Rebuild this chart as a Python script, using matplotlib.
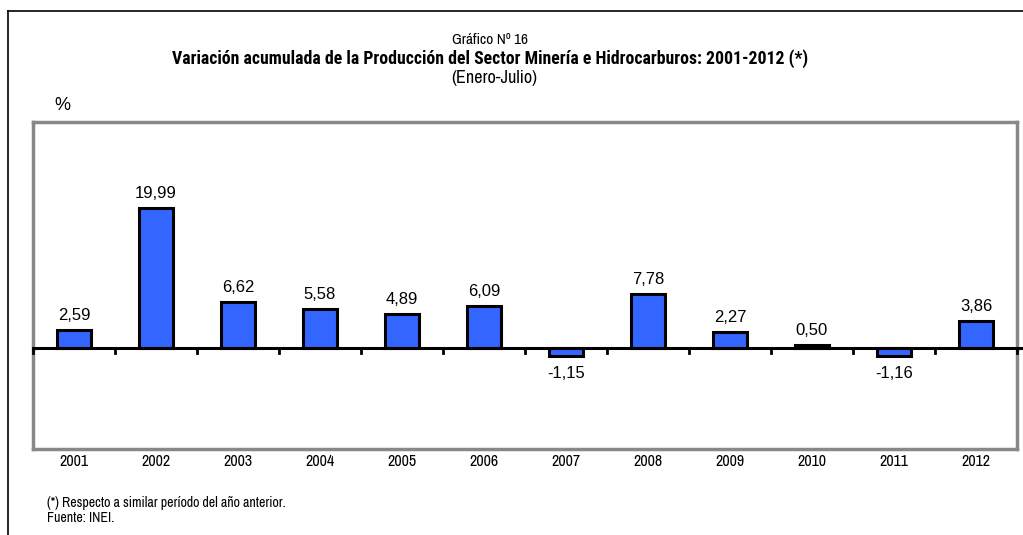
import matplotlib.pyplot as plt

years = ['2001', '2002', '2003', '2004', '2005', '2006',
         '2007', '2008', '2009', '2010', '2011', '2012']
values = [2.59, 19.99, 6.62, 5.58, 4.89, 6.09,
          -1.15, 7.78, 2.27, 0.50, -1.16, 3.86]

narrow = ['Archivo Narrow', 'Liberation Sans', 'DejaVu Sans']
narrow_bold = ['Roboto Condensed', 'Archivo Narrow', 'DejaVu Sans']
regular = ['Liberation Sans', 'DejaVu Sans']

W, H = 1023, 535
fig = plt.figure(figsize=(W / 100, H / 100), dpi=100)

# outer frame (left and top visible)
fig.add_artist(plt.Line2D([8 / W, 8 / W], [0, 1 - 11 / H], color='black', lw=1.2))
fig.add_artist(plt.Line2D([8 / W, 1], [1 - 11 / H, 1 - 11 / H], color='black', lw=1.2))

ax = fig.add_axes([33 / W, 1 - 449 / H, (1017 - 33) / W, (449 - 122) / H])
x = list(range(len(years)))
ax.bar(x, values, width=0.42, color='#3366FF', edgecolor='black', linewidth=2.2, zorder=3)
ax.set_xlim(-0.5, len(years) - 0.5)
ax.set_ylim(-14.4, 32.3)
for s in ax.spines.values():
    s.set_color('#888888')
    s.set_linewidth(2.5)
ax.set_xticks([])
ax.set_yticks([])

# zero line with category ticks
ax.plot([-0.5, len(years) - 0.45], [0, 0], color='black', lw=2.2, zorder=4, clip_on=False)
for i in range(len(years) + 1):
    ax.plot([i - 0.5, i - 0.5], [0, -0.7], color='black', lw=2, zorder=4, clip_on=False)

for i, v in enumerate(values):
    lbl = f'{v:.2f}'.replace('.', ',')
    if v >= 0:
        ax.text(i, v + 1.0, lbl, ha='center', va='bottom', fontsize=12, family=regular)
    else:
        ax.text(i, v - 1.4, lbl, ha='center', va='top', fontsize=12, family=regular)
    ax.text(i, -16.2, years[i], ha='center', va='center', fontsize=11.5, family=narrow)

fig.text(490 / W, 1 - 40 / H, 'Gráfico Nº 16', ha='center', va='center', fontsize=11, family=narrow)
fig.text(490 / W, 1 - 59 / H, 'Variación acumulada de la Producción del Sector Minería e Hidrocarburos: 2001-2012 (*)',
         ha='center', va='center', fontsize=12.8, family=narrow_bold, weight='bold')
fig.text(494 / W, 1 - 78 / H, '(Enero-Julio)', ha='center', va='center', fontsize=13, family=narrow)
fig.text(62 / W, 1 - 106 / H, '%', ha='center', va='center', fontsize=13, family=regular)
fig.text(47 / W, 1 - 503 / H, '(*) Respecto a similar período del año anterior.', ha='left', va='center',
         fontsize=10, family=narrow)
fig.text(47 / W, 1 - 518 / H, 'Fuente: INEI.', ha='left', va='center', fontsize=10, family=narrow)

fig.savefig('out.png', dpi=100)
